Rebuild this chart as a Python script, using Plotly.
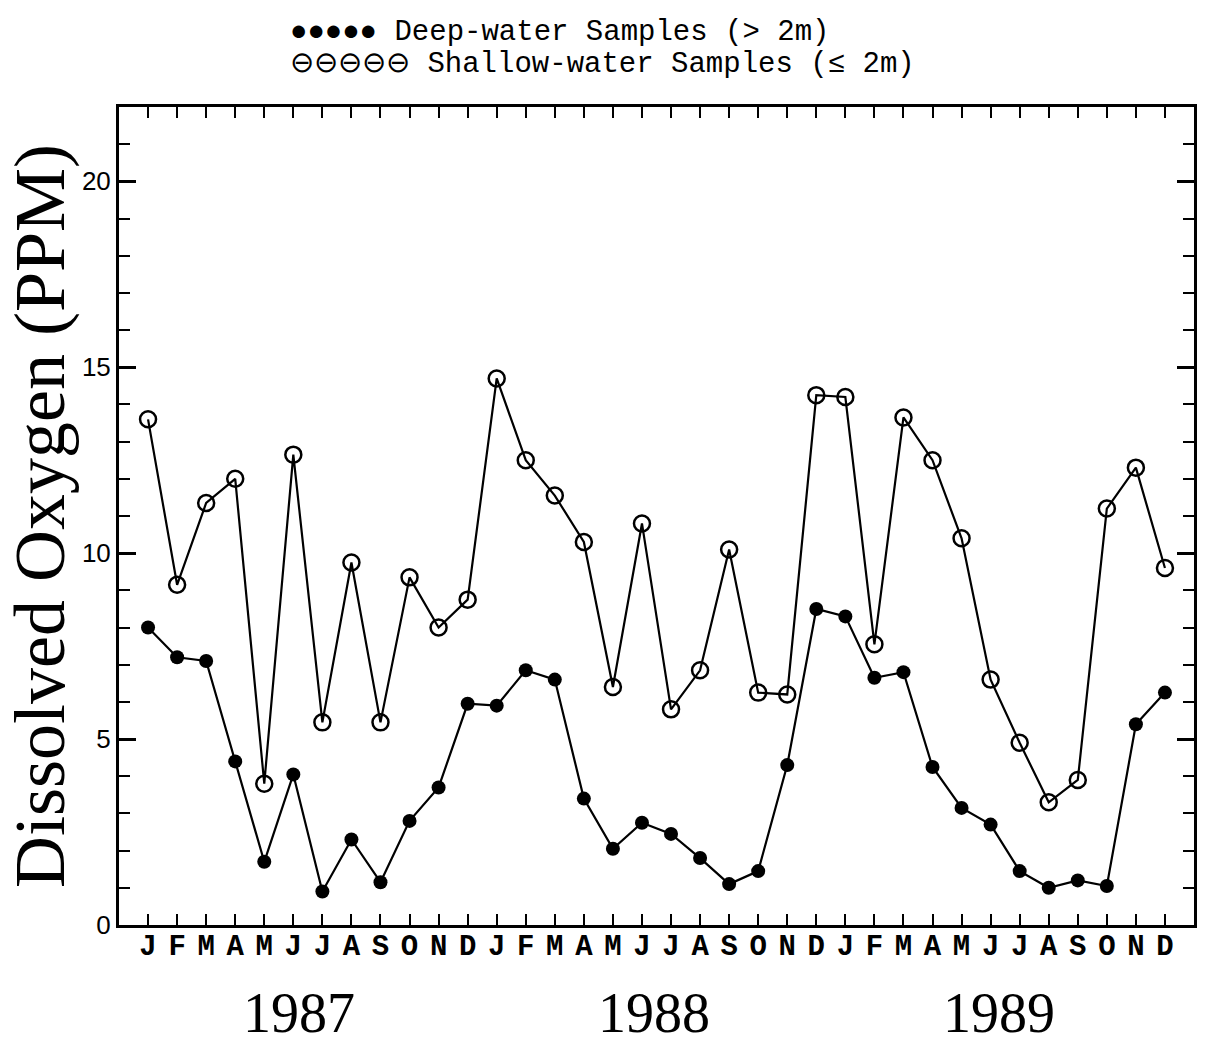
import plotly.graph_objects as go

# ---- data ----
month_letters = ["J", "F", "M", "A", "M", "J", "J", "A", "S", "O", "N", "D"]
years = ["1987", "1988", "1989"]
month_index = list(range(36))
tick_labels = month_letters * 3

shallow = [13.6, 9.15, 11.35, 12.0, 3.8, 12.65, 5.45, 9.75, 5.45, 9.35, 8.0, 8.75,
           14.7, 12.5, 11.55, 10.3, 6.4, 10.8, 5.8, 6.85, 10.1, 6.25, 6.2, 14.25,
           14.2, 7.55, 13.65, 12.5, 10.4, 6.6, 4.9, 3.3, 3.9, 11.2, 12.3, 9.6]
deep = [8.0, 7.2, 7.1, 4.4, 1.7, 4.05, 0.9, 2.3, 1.15, 2.8, 3.7, 5.95,
        5.9, 6.85, 6.6, 3.4, 2.05, 2.75, 2.45, 1.8, 1.1, 1.45, 4.3, 8.5,
        8.3, 6.65, 6.8, 4.25, 3.15, 2.7, 1.45, 1.0, 1.2, 1.05, 5.4, 6.25]
year_label_x = [5.2, 17.4, 29.3]

deep_name = "Deep-water Samples (> 2m)"
shallow_name = "Shallow-water Samples (≤ 2m)"

fig = go.Figure()
fig.add_trace(go.Scatter(
    x=month_index, y=shallow, mode="lines+markers", name=shallow_name,
    line=dict(color="black", width=2.2),
    marker=dict(symbol="circle-open", size=16, color="black", line=dict(width=2.5, color="black")),
    showlegend=False,
))
fig.add_trace(go.Scatter(
    x=month_index, y=deep, mode="lines+markers", name=deep_name,
    line=dict(color="black", width=2.2),
    marker=dict(symbol="circle", size=14, color="black"),
    showlegend=False,
))

L, R, T, B = 119, 13, 107, 120
W, H = 1209, 1045
pw, ph = W - L - R, H - T - B

def px_to_paper_x(p):
    return (p - L) / pw

def px_to_paper_y(p):
    return (H - B - p) / ph

legend_font = dict(family="Liberation Mono", size=29, color="black")
fig.add_annotation(text="●●●●● " + deep_name, xref="paper", yref="paper",
                   x=px_to_paper_x(288), y=px_to_paper_y(32), xanchor="left", yanchor="middle",
                   showarrow=False, font=legend_font)
fig.add_annotation(text="⊖⊖⊖⊖⊖ " + shallow_name, xref="paper", yref="paper",
                   x=px_to_paper_x(288), y=px_to_paper_y(65), xanchor="left", yanchor="middle",
                   showarrow=False, font=legend_font)

for yr, xv in zip(years, year_label_x):
    fig.add_annotation(text=yr, x=xv, xref="x", yref="paper", y=px_to_paper_y(H - B + 88),
                       yanchor="middle", xanchor="center", showarrow=False,
                       font=dict(family="Liberation Serif", size=56, color="black"))

fig.update_layout(
    width=W, height=H,
    margin=dict(l=L, r=R, t=T, b=B),
    paper_bgcolor="white", plot_bgcolor="white",
    showlegend=False,
)
fig.update_xaxes(
    range=[-1, 36], tickmode="array", tickvals=month_index, ticktext=tick_labels,
    ticks="inside", ticklen=11, tickwidth=2, tickcolor="black",
    showline=True, linewidth=3, linecolor="black", mirror="allticks",
    showgrid=False, zeroline=False,
    tickfont=dict(family="Liberation Mono", size=29, color="black", weight="bold"),
    ticklabelstandoff=-8,
)
fig.update_yaxes(
    range=[0, 22], tickmode="linear", tick0=0, dtick=5,
    ticks="inside", ticklen=17, tickwidth=2.5, tickcolor="black",
    minor=dict(dtick=1, ticks="inside", ticklen=11, tickwidth=2, tickcolor="black"),
    showline=True, linewidth=3, linecolor="black", mirror="allticks",
    showgrid=False, zeroline=False,
    tickfont=dict(family="Liberation Sans", size=26, color="black"),
    ticklabelstandoff=0,
    title=dict(text="Dissolved Oxygen (PPM)", standoff=8,
               font=dict(family="Liberation Serif", size=72, color="black")),
)

fig.write_html("out.html")
